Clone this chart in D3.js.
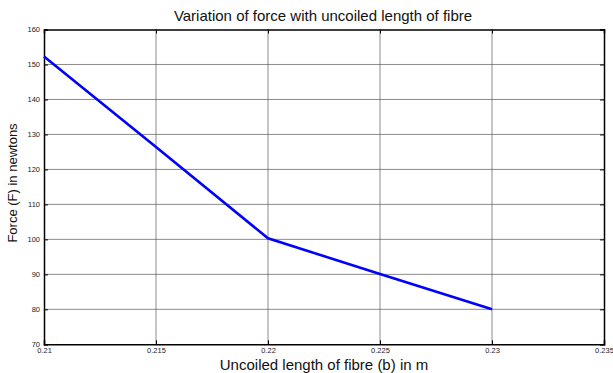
<!DOCTYPE html>
<html><head><meta charset="utf-8">
<script src="https://cdn.jsdelivr.net/npm/d3@7"></script>
<style>body{margin:0;background:#fff}svg{display:block}text{font-family:"Liberation Sans",Arial,sans-serif}</style>
</head><body><svg id="c" width="613" height="373"></svg>
<script>
const lengths = [0.21, 0.215, 0.22, 0.225, 0.23];
const forces = [152.3, 126.4, 100.3, 90.1, 80.0];
const xTicks = [0.21, 0.215, 0.22, 0.225, 0.23, 0.235];
const yTicks = [70, 80, 90, 100, 110, 120, 130, 140, 150, 160];
const title = "Variation of force with uncoiled length of fibre";
const xLabel = "Uncoiled length of fibre (b) in m";
const yLabel = "Force (F) in newtons";

const svg = d3.select("#c");
const L = 44, R = 604, T = 29.5, B = 344.3;
const x = d3.scaleLinear().domain([0.21, 0.235]).range([L, R]);
const y = d3.scaleLinear().domain([70, 160]).range([B, T]);

// grid
svg.append("g").selectAll("line").data(xTicks.slice(1, -1)).join("line")
  .attr("x1", d => x(d)).attr("x2", d => x(d)).attr("y1", T).attr("y2", B)
  .attr("stroke", "#5a5a5a").attr("stroke-width", 0.7);
svg.append("g").selectAll("line").data(yTicks.slice(1, -1)).join("line")
  .attr("y1", d => y(d)).attr("y2", d => y(d)).attr("x1", L).attr("x2", R)
  .attr("stroke", "#5a5a5a").attr("stroke-width", 0.7);

const fmtX = d => String(+d.toFixed(3));
// axes (inner ticks)
const axB = svg.append("g").attr("transform", `translate(0,${B})`)
  .call(d3.axisBottom(x).tickValues(xTicks).tickFormat(fmtX).tickSize(-4).tickPadding(5));
const axT = svg.append("g").attr("transform", `translate(0,${T})`)
  .call(d3.axisTop(x).tickValues(xTicks).tickFormat("").tickSize(-4));
const axL = svg.append("g").attr("transform", `translate(${L},0)`)
  .call(d3.axisLeft(y).tickValues(yTicks).tickSize(-4).tickPadding(4));
const axR = svg.append("g").attr("transform", `translate(${R},0)`)
  .call(d3.axisRight(y).tickValues(yTicks).tickFormat("").tickSize(-4));
[axB, axT, axL, axR].forEach(a => {
  a.select(".domain").attr("stroke", "#000").attr("stroke-width", 1.5);
  a.selectAll(".tick line").attr("stroke", "#000").attr("stroke-width", 1);
  a.selectAll("text").attr("font-size", 7.5).attr("fill", "#222")
    .attr("font-family", "Liberation Sans, Arial, sans-serif");
});
axB.selectAll("text").attr("dy", "0.55em");

// line
svg.append("path").datum(lengths.map((d, i) => [d, forces[i]]))
  .attr("fill", "none").attr("stroke", "#0000ff").attr("stroke-width", 2.6)
  .attr("d", d3.line().x(d => x(d[0])).y(d => y(d[1])));

// texts
svg.append("text").attr("x", 323).attr("y", 21).attr("text-anchor", "middle")
  .attr("font-size", 15).attr("fill", "#111").text(title);
svg.append("text").attr("x", 324).attr("y", 370).attr("text-anchor", "middle")
  .attr("font-size", 15).attr("fill", "#111").text(xLabel);
svg.append("text").attr("transform", `translate(17,183) rotate(-90)`)
  .attr("text-anchor", "middle").attr("font-size", 13).attr("fill", "#111").text(yLabel);
</script></body></html>
